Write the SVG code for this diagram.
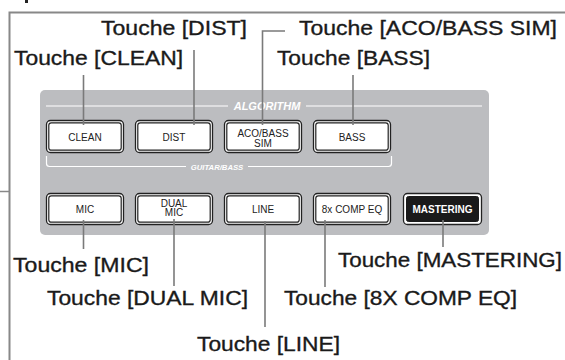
<svg xmlns="http://www.w3.org/2000/svg" width="565" height="360" viewBox="0 0 565 360">
<style>
.lbl{font-family:"Liberation Sans",Arial,sans-serif;font-size:21px;fill:#1a1a1a;stroke:#1a1a1a;stroke-width:0.35}
.btxt{font-family:"Liberation Sans",Arial,sans-serif;font-size:10px;fill:#222;text-anchor:middle}
.hdr{font-family:"Liberation Sans",Arial,sans-serif;font-weight:bold;font-style:italic;fill:#fff;text-anchor:middle}
.outer{fill:#fff;stroke:#222;stroke-width:1.3}
.inner{fill:#fff;stroke:#222;stroke-width:1.2}
.conn{stroke:#7a7a7a;stroke-width:1.6;fill:none}
.wl{stroke:#fff;stroke-width:1.2;fill:none}
</style>
<rect width="565" height="360" fill="#fff"/>
<g id="frame">
<path d="M565,12.5 H9.5 V360" fill="none" stroke="#888" stroke-width="2"/>
<path d="M0,191.5 H9" fill="none" stroke="#888" stroke-width="1.5"/>
<rect x="25" y="0" width="3" height="3" fill="#222"/>
</g>
<g id="panel">
<rect x="40" y="90" width="449" height="145" rx="5" fill="#bcbdc0"/>
<path class="wl" d="M46,106 H228 M306,106 H482"/>
<text class="hdr" x="267" y="110" font-size="11">ALGORITHM</text>
<path class="wl" d="M46.5,156 V163.5 Q46.5,166.5 49.5,166.5 H186 M248,166.5 H388.5 Q391.5,166.5 391.5,163.5 V156"/>
<text class="hdr" x="217" y="170" font-size="7.7">GUITAR/BASS</text>
</g>
<g id="btn-clean"><rect class="outer" x="46.5" y="120.5" width="77" height="32" rx="4"/><rect class="inner" x="48.8" y="122.8" width="72.4" height="27.4" rx="2.5"/><text class="btxt" x="85" y="140.5">CLEAN</text></g>
<g id="btn-dist"><rect class="outer" x="135.5" y="120.5" width="77" height="32" rx="4"/><rect class="inner" x="137.8" y="122.8" width="72.4" height="27.4" rx="2.5"/><text class="btxt" x="174" y="140.5">DIST</text></g>
<g id="btn-aco"><rect class="outer" x="224.5" y="120.5" width="77" height="32" rx="4"/><rect class="inner" x="226.8" y="122.8" width="72.4" height="27.4" rx="2.5"/><text class="btxt" x="263" y="137" font-size="9.5">ACO/BASS</text><text class="btxt" x="263" y="146.5" font-size="9.5">SIM</text></g>
<g id="btn-bass"><rect class="outer" x="313.5" y="120.5" width="77" height="32" rx="4"/><rect class="inner" x="315.8" y="122.8" width="72.4" height="27.4" rx="2.5"/><text class="btxt" x="352" y="140.5">BASS</text></g>
<g id="btn-mic"><rect class="outer" x="46.5" y="193.5" width="77" height="31" rx="4"/><rect class="inner" x="48.8" y="195.8" width="72.4" height="26.4" rx="2.5"/><text class="btxt" x="85" y="213">MIC</text></g>
<g id="btn-dualmic"><rect class="outer" x="135.5" y="193.5" width="77" height="31" rx="4"/><rect class="inner" x="137.8" y="195.8" width="72.4" height="26.4" rx="2.5"/><text class="btxt" x="174" y="206.5" font-size="9.5">DUAL</text><text class="btxt" x="174" y="216" font-size="9.5">MIC</text></g>
<g id="btn-line"><rect class="outer" x="224.5" y="193.5" width="77" height="31" rx="4"/><rect class="inner" x="226.8" y="195.8" width="72.4" height="26.4" rx="2.5"/><text class="btxt" x="263" y="213">LINE</text></g>
<g id="btn-comp"><rect class="outer" x="313.5" y="193.5" width="77" height="31" rx="4"/><rect class="inner" x="315.8" y="195.8" width="72.4" height="26.4" rx="2.5"/><text class="btxt" x="352" y="212.5" font-size="9.5">8x COMP EQ</text></g>
<g id="btn-mastering"><rect class="outer" x="403.5" y="193.5" width="78" height="31" rx="4"/><rect x="406.5" y="196.5" width="72" height="25" rx="2" fill="#1a1a1a" stroke="#1a1a1a"/><text class="btxt" x="442.5" y="212.5" font-size="8.5" font-weight="bold" style="fill:#fff">MASTERING</text></g>
<g id="connectors">
<path class="conn" d="M83.5,75 V125"/>
<path class="conn" d="M194,50 V125"/>
<path class="conn" d="M285,31 H262.5 V125"/>
<path class="conn" d="M353,75 V125"/>
<path class="conn" d="M83.5,220 V249"/>
<path class="conn" d="M174,219 V286"/>
<path class="conn" d="M265,221 V327"/>
<path class="conn" d="M325,220 V287"/>
<path class="conn" d="M443,220 V247"/>
</g>
<g id="labels">
<text class="lbl" x="14" y="65" textLength="169" lengthAdjust="spacingAndGlyphs">Touche [CLEAN]</text>
<text class="lbl" x="101" y="35" textLength="146" lengthAdjust="spacingAndGlyphs">Touche [DIST]</text>
<text class="lbl" x="299" y="35" textLength="258" lengthAdjust="spacingAndGlyphs">Touche [ACO/BASS SIM]</text>
<text class="lbl" x="277" y="65" textLength="153" lengthAdjust="spacingAndGlyphs">Touche [BASS]</text>
<text class="lbl" x="13" y="272" textLength="136" lengthAdjust="spacingAndGlyphs">Touche [MIC]</text>
<text class="lbl" x="47" y="305" textLength="201" lengthAdjust="spacingAndGlyphs">Touche [DUAL MIC]</text>
<text class="lbl" x="197" y="351" textLength="143" lengthAdjust="spacingAndGlyphs">Touche [LINE]</text>
<text class="lbl" x="338" y="267" textLength="224" lengthAdjust="spacingAndGlyphs">Touche [MASTERING]</text>
<text class="lbl" x="284" y="305" textLength="233" lengthAdjust="spacingAndGlyphs">Touche [8X COMP EQ]</text>
</g>
</svg>
